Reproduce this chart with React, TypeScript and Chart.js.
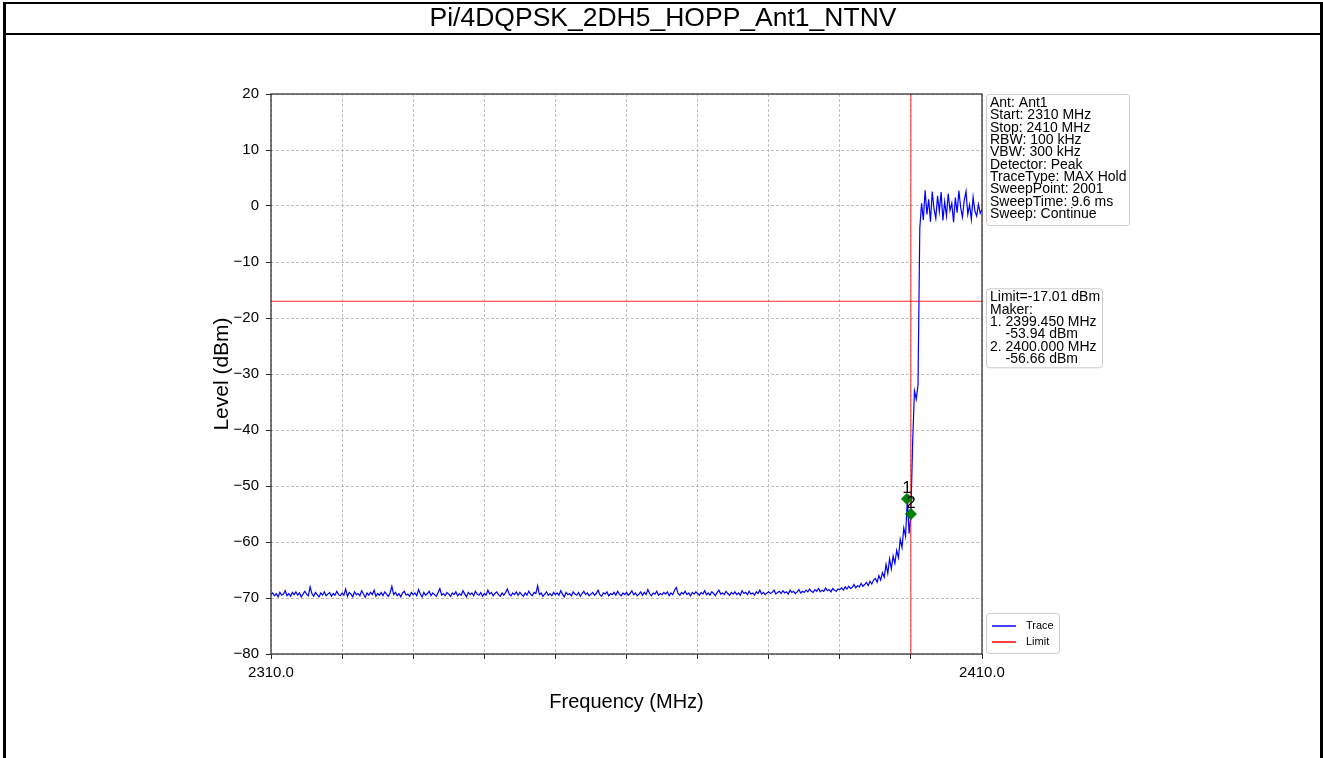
import React, { useEffect, useRef } from 'react';
import { Chart, registerables } from 'chart.js';

Chart.register(...registerables);

const TITLE = 'Pi/4DQPSK_2DH5_HOPP_Ant1_NTNV';
const X_TITLE = 'Frequency (MHz)';
const Y_TITLE = 'Level (dBm)';

const START_MHZ = 2310;
const STOP_MHZ = 2410;
const STEP_MHZ = 0.25;

// Max-hold trace levels (dBm), one per 0.25 MHz from 2310 to 2410 MHz
const LEVELS = [
  -69.4, -69.1, -69.6, -69.2, -69.8, -69.0, -69.5, -69.3, -68.7, -69.6, -69.2, -69.7, -69.0, -69.4, -68.9, -69.5, -69.1, -69.8, -69.3, -68.8,
  -69.3, -69.6, -68.0, -69.2, -69.7, -69.0, -69.4, -69.8, -69.1, -69.5, -68.9, -69.6, -69.3, -69.0, -69.7, -69.2, -69.5, -68.8, -69.4, -69.6,
  -69.1, -69.5, -68.4, -69.7, -69.0, -69.3, -69.8, -68.9, -69.4, -69.2, -69.6, -68.7, -69.3, -69.9, -69.1, -69.5, -69.0, -69.4, -68.6, -69.7,
  -69.2, -69.5, -69.0, -69.6, -68.9, -69.3, -69.7, -69.1, -67.9, -69.4, -69.0, -69.6, -69.2, -69.8, -69.1, -68.8, -69.5, -69.3, -69.7, -69.0,
  -69.4, -69.1, -69.6, -68.5, -69.3, -69.8, -69.0, -69.5, -69.2, -68.8, -69.6, -69.1, -69.4, -69.7, -69.0, -68.3, -69.5, -69.2, -69.6, -69.0,
  -69.3, -69.7, -69.1, -69.4, -68.9, -69.6, -69.2, -69.5, -68.7, -69.3, -69.8, -69.0, -69.4, -69.1, -69.6, -68.8, -69.3, -69.5, -69.0, -69.7,
  -69.2, -69.5, -68.6, -69.3, -69.0, -69.6, -69.2, -68.9, -69.4, -69.7, -69.1, -69.5, -69.0, -68.4, -69.3, -69.6, -69.1, -69.4, -68.9, -69.5,
  -69.0, -69.4, -69.7, -69.1, -69.5, -68.8, -69.3, -69.6, -69.0, -69.2, -67.8, -69.4, -69.1, -69.7, -69.3, -68.9, -69.5, -69.2, -69.6, -69.0,
  -69.4, -69.1, -69.5, -68.7, -69.3, -69.8, -69.0, -69.4, -69.2, -69.6, -68.9, -69.3, -69.5, -69.0, -69.7, -69.2, -68.8, -69.4, -69.1, -69.6,
  -69.3, -69.0, -69.5, -69.2, -68.6, -69.4, -69.7, -69.1, -69.3, -68.9, -69.6, -69.2, -69.4, -69.0, -69.5, -68.8, -69.3, -69.6, -69.1, -69.4,
  -69.0, -69.5, -69.2, -68.7, -69.4, -69.1, -69.6, -69.3, -68.9, -69.5, -69.0, -69.4, -68.5, -69.2, -69.6, -69.1, -69.3, -68.8, -69.5, -69.2,
  -69.4, -69.0, -69.3, -68.9, -69.6, -69.1, -69.4, -68.6, -68.1, -69.2, -69.5, -69.0, -69.3, -68.8, -69.4, -69.1, -69.6, -69.0, -69.3, -68.9,
  -69.2, -69.5, -69.0, -69.3, -68.7, -69.4, -69.1, -69.5, -68.9, -69.2, -69.6, -69.0, -68.6, -69.3, -69.1, -69.4, -68.8, -69.2, -69.5, -69.0,
  -69.3, -68.9, -69.4, -69.1, -69.5, -68.7, -69.2, -69.0, -69.4, -68.8, -69.3, -69.1, -69.5, -68.9, -69.2, -68.6, -69.3, -69.0, -69.4, -69.1,
  -68.9, -69.2, -69.0, -68.6, -69.3, -69.0, -68.8, -69.2, -68.7, -69.1, -68.9, -69.3, -68.6, -69.0, -68.8, -69.2, -68.9, -68.5, -69.1, -68.8,
  -69.0, -68.6, -68.9, -68.4, -68.8, -69.0, -68.5, -68.8, -68.3, -68.9, -68.6, -68.8, -68.2, -68.7, -68.5, -68.9, -68.3, -68.6, -68.8, -68.4,
  -68.5, -68.2, -68.6, -68.0, -68.4, -67.9, -68.3, -68.1, -67.6, -68.2, -67.8, -68.0, -67.4, -67.9, -67.6, -67.2, -67.8, -67.0, -67.5, -66.8,
  -66.5, -67.2, -66.0, -66.8, -65.5, -66.3, -64.0, -65.6, -63.0, -64.8, -62.5, -63.8, -61.5, -62.8, -59.5, -61.0, -57.5, -59.0, -52.5, -58.5,
  -55.0, -42.0, -33.0, -34.5, -32.0, -4.0, 0.5, -2.5, 2.8, -1.5, 1.2, -2.8, 2.6, -0.5, -2.2, 1.8, -1.0, 2.5, -2.6, 0.8,
  -1.8, 2.2, -0.8, 0.5, -2.9, 1.5, -1.2, 2.7, -0.3, -2.0, 1.0, 2.6, -1.5, 0.2, -2.4, 1.6, -0.9, -1.8, 0.3, -1.3,
  -0.6,
];

const LIMIT_DBM = -17.01;
const EDGE_MHZ = 2400;

const MARKER_FREQ = [2399.45, 2400.0];
const MARKER_LEVEL = [-52.3, -55.0];
const MARKER_LABELS = ['1', '2'];

const Y_MIN = -80;
const Y_MAX = 20;
const Y_STEP = 10;
const X_STEP = 10;
const X_TICK_LABELS: Record<number, string> = { 2310: '2310.0', 2410: '2410.0' };

const INFO_LINES = [
  'Ant: Ant1',
  'Start: 2310 MHz',
  'Stop: 2410 MHz',
  'RBW: 100 kHz',
  'VBW: 300 kHz',
  'Detector: Peak',
  'TraceType: MAX Hold',
  'SweepPoint: 2001',
  'SweepTime: 9.6 ms',
  'Sweep: Continue',
];

const MARKER_INFO_LINES = [
  'Limit=-17.01 dBm',
  'Maker:',
  '1. 2399.450 MHz',
  '    -53.94 dBm',
  '2. 2400.000 MHz',
  '    -56.66 dBm',
];

const LEGEND_ITEMS = [
  { label: 'Trace', color: '#0000ff' },
  { label: 'Limit', color: '#ff0000' },
];

const FONT = '"Liberation Sans", Arial, sans-serif';

function drawBox(ctx: CanvasRenderingContext2D, x: number, y: number, w: number, h: number) {
  ctx.save();
  ctx.beginPath();
  (ctx as any).roundRect(x + 0.5, y + 0.5, w, h, 3);
  ctx.fillStyle = 'rgba(255,255,255,0.9)';
  ctx.fill();
  ctx.strokeStyle = '#cccccc';
  ctx.lineWidth = 1;
  ctx.stroke();
  ctx.restore();
}

const overlayPlugin = {
  id: 'overlay',
  afterDraw(chart: any) {
    const { ctx, chartArea: a, scales } = chart;
    const xs = scales.x;
    const ys = scales.y;
    ctx.save();
    // axes frame
    ctx.strokeStyle = '#262626';
    ctx.lineWidth = 1.2;
    ctx.strokeRect(a.left, a.top, a.right - a.left, a.bottom - a.top);

    // marker labels
    ctx.fillStyle = '#000';
    ctx.font = `17px ${FONT}`;
    ctx.textAlign = 'center';
    ctx.textBaseline = 'alphabetic';
    MARKER_LABELS.forEach((lab, i) => {
      const px = xs.getPixelForValue(MARKER_FREQ[i]);
      const py = ys.getPixelForValue(MARKER_LEVEL[i]);
      ctx.fillText(lab, px, py - 6);
    });

    // axis titles
    ctx.font = `20px ${FONT}`;
    ctx.textBaseline = 'middle';
    ctx.fillText(X_TITLE, (a.left + a.right) / 2, a.bottom + 48);
    ctx.save();
    ctx.translate(a.left - 49, (a.top + a.bottom) / 2);
    ctx.rotate(-Math.PI / 2);
    ctx.font = `21px ${FONT}`;
    ctx.fillText(Y_TITLE, 0, 0);
    ctx.restore();

    // info boxes
    const bx = a.right + 4;
    drawBox(ctx, bx, a.top, 143, 131);
    ctx.font = `14px ${FONT}`;
    ctx.textAlign = 'left';
    ctx.textBaseline = 'alphabetic';
    ctx.fillStyle = '#000';
    INFO_LINES.forEach((t, i) => ctx.fillText(t, bx + 4, a.top + 13 + i * 12.35));

    const b2y = ys.getPixelForValue(LIMIT_DBM) - 13;
    drawBox(ctx, bx, b2y, 116, 79);
    MARKER_INFO_LINES.forEach((t, i) => ctx.fillText(t, bx + 4, b2y + 13 + i * 12.35));

    // legend
    const ly = a.bottom - 41;
    drawBox(ctx, bx, ly, 73, 40);
    ctx.font = `11px ${FONT}`;
    LEGEND_ITEMS.forEach((it, i) => {
      const yy = ly + 13 + i * 16;
      ctx.strokeStyle = it.color;
      ctx.lineWidth = 1.5;
      ctx.beginPath();
      ctx.moveTo(bx + 6, yy);
      ctx.lineTo(bx + 30, yy);
      ctx.stroke();
      ctx.fillStyle = '#000';
      ctx.textBaseline = 'middle';
      ctx.fillText(it.label, bx + 40, yy);
    });
    ctx.restore();
  },
};

export default function App() {
  const canvasRef = useRef<HTMLCanvasElement | null>(null);

  useEffect(() => {
    const canvas = canvasRef.current;
    if (!canvas) return;
    const trace = LEVELS.map((y, i) => ({ x: START_MHZ + i * STEP_MHZ, y }));
    const chart = new Chart(canvas, {
      type: 'scatter',
      data: {
        datasets: [
          {
            label: 'Marker',
            data: MARKER_FREQ.map((x, i) => ({ x, y: MARKER_LEVEL[i] })),
            pointStyle: 'rectRot',
            pointRadius: 5.5,
            backgroundColor: '#008000',
            borderColor: '#007000',
            borderWidth: 1,
            showLine: false,
            order: 0,
          },
          {
            label: 'Limit',
            data: [{ x: START_MHZ, y: LIMIT_DBM }, { x: STOP_MHZ, y: LIMIT_DBM }],
            borderColor: 'rgba(255,0,0,0.85)',
            borderWidth: 1,
            pointRadius: 0,
            showLine: true,
            order: 1,
          },
          {
            label: 'Edge',
            data: [{ x: EDGE_MHZ, y: Y_MIN }, { x: EDGE_MHZ, y: Y_MAX }],
            borderColor: 'rgba(255,0,0,0.85)',
            borderWidth: 1,
            pointRadius: 0,
            showLine: true,
            order: 1,
          },
          {
            label: 'Trace',
            data: trace,
            borderColor: '#0000ff',
            borderWidth: 1.2,
            pointRadius: 0,
            showLine: true,
            tension: 0,
            order: 2,
          },
        ],
      },
      options: {
        animation: false,
        responsive: false,
        devicePixelRatio: 1,
        layout: { padding: { left: 200, right: 341, top: 94, bottom: 44 } },
        plugins: {
          legend: { display: false },
          tooltip: { enabled: false },
          title: { display: false },
        },
        scales: {
          x: {
            type: 'linear',
            min: START_MHZ,
            max: STOP_MHZ,
            afterFit: (s: any) => {
              s.height = 60;
            },
            ticks: {
              stepSize: X_STEP,
              autoSkip: false,
              maxRotation: 0,
              padding: 5,
              color: '#000',
              font: { family: FONT, size: 15 },
              callback: (v: any) => X_TICK_LABELS[Number(v)] ?? '',
            },
            grid: {
              color: '#b0b0b0',
              lineWidth: 0.8,
              tickLength: 5,
              tickColor: '#262626',
              tickWidth: 1,
            },
            border: { display: false, dash: [3, 2] },
          },
          y: {
            type: 'linear',
            min: Y_MIN,
            max: Y_MAX,
            afterFit: (s: any) => {
              s.width = 71;
            },
            ticks: {
              stepSize: Y_STEP,
              padding: 7,
              color: '#000',
              font: { family: FONT, size: 15 },
              callback: (v: any) => (Number(v) < 0 ? '\u2212' + Math.abs(Number(v)) : String(v)),
            },
            grid: {
              color: '#b0b0b0',
              lineWidth: 0.8,
              tickLength: 5,
              tickColor: '#262626',
              tickWidth: 1,
            },
            border: { display: false, dash: [3, 2] },
          },
        },
      },
      plugins: [overlayPlugin],
    } as any);
    return () => chart.destroy();
  }, []);

  return (
    <div
      style={{
        position: 'absolute',
        left: 0,
        top: 0,
        width: 1323,
        height: 758,
        background: '#fff',
        overflow: 'hidden',
      }}
    >
      <canvas
        ref={canvasRef}
        width={1323}
        height={758}
        style={{ position: 'absolute', left: 0, top: 0, width: 1323, height: 758 }}
      />
      <div
        style={{
          position: 'absolute',
          left: 3,
          top: 2,
          width: 1320,
          height: 800,
          boxSizing: 'border-box',
          borderLeft: '3px solid #000',
          borderRight: '3px solid #000',
          borderTop: '2px solid #000',
          pointerEvents: 'none',
        }}
      />
      <div
        style={{
          position: 'absolute',
          left: 3,
          top: 2,
          width: 1320,
          height: 33,
          boxSizing: 'border-box',
          borderBottom: '2px solid #000',
          textAlign: 'center',
          fontFamily: FONT,
          fontSize: 26.5,
          lineHeight: '31px',
          color: '#000',
        }}
      >
        {TITLE}
      </div>
    </div>
  );
}
